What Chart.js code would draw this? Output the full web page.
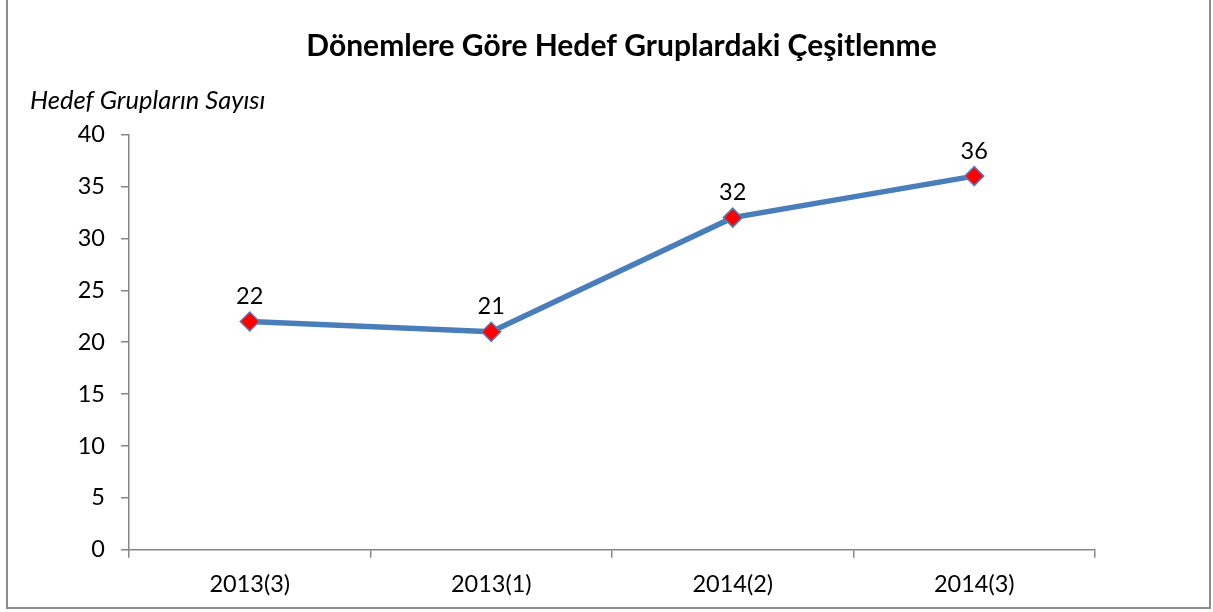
<!DOCTYPE html>
<html>
<head>
<meta charset="utf-8">
<script src="https://cdn.jsdelivr.net/npm/chart.js@4/dist/chart.umd.min.js"></script>
<style>
  body { margin: 0; background: #fff; }
  #chart { display: block; }
</style>
</head>
<body>
<canvas id="chart" width="1213" height="612"></canvas>
<script>
const periods = ['2013(3)', '2013(1)', '2014(2)', '2014(3)'];
const groupCounts = [22, 21, 32, 36];
const chartTitle = 'Dönemlere Göre Hedef Gruplardaki Çeşitlenme';
const yTitle = 'Hedef Grupların Sayısı';

const fontFamily = 'Lato, "Open Sans", sans-serif';
const tickSize = 23.5;

// gray frame round the chart (left, right, bottom edges visible)
const framePlugin = {
  id: 'frame',
  afterDraw(chart) {
    const ctx = chart.ctx;
    ctx.save();
    ctx.strokeStyle = '#8c8c8c';
    ctx.lineWidth = 2;
    ctx.beginPath();
    ctx.moveTo(7, -2);
    ctx.lineTo(7, 608);
    ctx.lineTo(1210, 608);
    ctx.lineTo(1210, -2);
    ctx.stroke();
    ctx.restore();
  }
};

// value labels above each point
const valueLabels = {
  id: 'valueLabels',
  afterDatasetsDraw(chart) {
    const ctx = chart.ctx;
    const meta = chart.getDatasetMeta(0);
    ctx.save();
    ctx.font = tickSize + 'px ' + fontFamily;
    ctx.fillStyle = '#000';
    ctx.textAlign = 'center';
    ctx.textBaseline = 'middle';
    meta.data.forEach((pt, i) => {
      ctx.fillText(String(groupCounts[i]), pt.x, pt.y - 25);
    });
    ctx.restore();
  }
};

new Chart(document.getElementById('chart'), {
  type: 'line',
  data: {
    labels: periods,
    datasets: [{
      data: groupCounts,
      borderColor: '#4a7ebb',
      borderWidth: 5.5,
      tension: 0,
      pointStyle: 'rectRot',
      pointRadius: 9.5,
      pointHoverRadius: 9.5,
      pointBackgroundColor: '#ff0000',
      pointBorderColor: '#4f81bd',
      pointBorderWidth: 1.5
    }]
  },
  options: {
    responsive: false,
    animation: false,
    layout: { padding: { left: 30, right: 0, top: 0, bottom: 0 } },
    plugins: {
      legend: { display: false },
      tooltip: { enabled: false },
      title: {
        display: true,
        text: chartTitle,
        color: '#000',
        font: { family: fontFamily, size: 30, weight: 'bold' },
        padding: { top: 28, bottom: 21 }
      },
      subtitle: {
        display: true,
        text: yTitle,
        align: 'start',
        color: '#000',
        font: { family: fontFamily, size: 25.5, style: 'italic' },
        padding: { top: 0, bottom: 19 }
      }
    },
    scales: {
      x: {
        offset: true,
        grid: {
          offset: true,
          drawOnChartArea: false,
          drawTicks: true,
          tickLength: 8,
          color: '#868686',
          lineWidth: 1.5
        },
        border: { color: '#868686', width: 1.5 },
        ticks: {
          color: '#000',
          padding: 13,
          font: { family: fontFamily, size: tickSize }
        }
      },
      y: {
        min: 0,
        max: 40,
        afterFit(scale) { scale.width = 99; },
        grid: {
          drawOnChartArea: false,
          drawTicks: true,
          tickLength: 8,
          color: '#868686',
          lineWidth: 1.5
        },
        border: { color: '#868686', width: 1.5 },
        ticks: {
          stepSize: 5,
          color: '#000',
          padding: 16,
          font: { family: fontFamily, size: tickSize }
        }
      },
      // empty spacer on the right so the plot ends where the reference does
      spacer: {
        type: 'linear',
        position: 'right',
        afterFit(scale) { scale.width = 118; },
        grid: { display: false },
        border: { display: false },
        ticks: { display: false }
      }
    }
  },
  plugins: [framePlugin, valueLabels]
});
</script>
</body>
</html>
